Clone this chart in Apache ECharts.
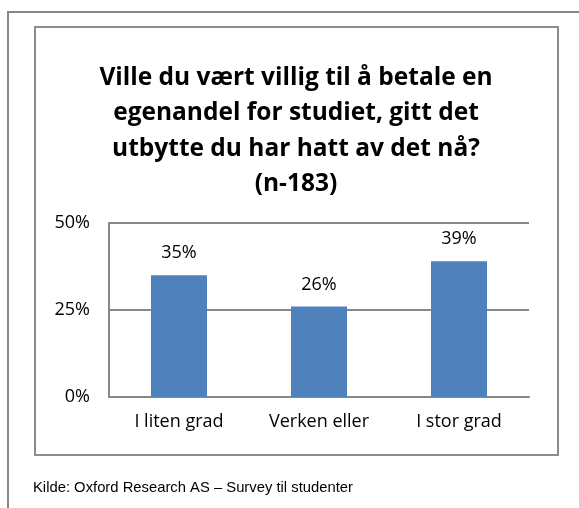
<!DOCTYPE html>
<html>
<head>
<meta charset="utf-8">
<script src="https://cdn.jsdelivr.net/npm/echarts@6/dist/echarts.min.js"></script>
<style>
html,body{margin:0;padding:0;background:#fff;}
#c{width:579px;height:508px;}
</style>
</head>
<body>
<div id="c"></div>
<script>
const categories = ['I liten grad', 'Verken eller', 'I stor grad'];
const values = [35, 26, 39];
const yTicks = [0, 25, 50];
const titleText = 'Ville du vært villig til å betale en\negenandel for studiet, gitt det\nutbytte du har hatt av det nå?\n(n-183)';
const sourceText = 'Kilde: Oxford Research AS – Survey til studenter';

const chart = echarts.init(document.getElementById('c'), null, {renderer: 'canvas'});
const font = '"Open Sans", "Noto Sans", sans-serif';
chart.setOption({
  animation: false,
  backgroundColor: '#ffffff',
  title: {
    text: titleText,
    left: 291,
    top: 55,
    textAlign: 'center',
    textStyle: {
      fontFamily: font,
      fontWeight: 'bold',
      fontSize: 24.5,
      lineHeight: 35.5,
      color: '#000000'
    }
  },
  graphic: [
    {type: 'rect', shape: {x: 8, y: 12, width: 600, height: 520}, style: {fill: 'none', stroke: '#878787', lineWidth: 2}, silent: true},
    {type: 'rect', shape: {x: 35, y: 27, width: 523, height: 428}, style: {fill: 'none', stroke: '#8c8c8c', lineWidth: 2}, silent: true},
    {type: 'text', left: 33, top: 480, style: {text: sourceText, font: '14.8px "Liberation Sans Narrow", "Liberation Sans", sans-serif', fill: '#000000'}, silent: true}
  ],
  grid: {left: 109, top: 223, width: 420, height: 174, containLabel: false},
  xAxis: {
    type: 'category',
    data: categories,
    axisLine: {show: true, lineStyle: {color: '#878787', width: 2}},
    axisTick: {show: false},
    axisLabel: {fontFamily: font, fontSize: 18, color: '#000000', margin: 16}
  },
  yAxis: {
    type: 'value',
    min: yTicks[0],
    max: yTicks[yTicks.length - 1],
    interval: yTicks[1] - yTicks[0],
    axisLine: {show: true, lineStyle: {color: '#878787', width: 2}},
    axisTick: {show: false},
    splitLine: {show: true, lineStyle: {color: '#878787', width: 2}},
    axisLabel: {fontFamily: font, fontSize: 18, color: '#000000', margin: 19, formatter: v => v + '%'}
  },
  series: [{
    type: 'bar',
    data: values,
    barWidth: 56,
    itemStyle: {color: '#4F81BD'},
    label: {
      show: true,
      position: 'top',
      distance: 13,
      fontFamily: font,
      fontSize: 18,
      color: '#000000',
      formatter: p => p.value + '%'
    }
  }]
});
</script>
</body>
</html>
